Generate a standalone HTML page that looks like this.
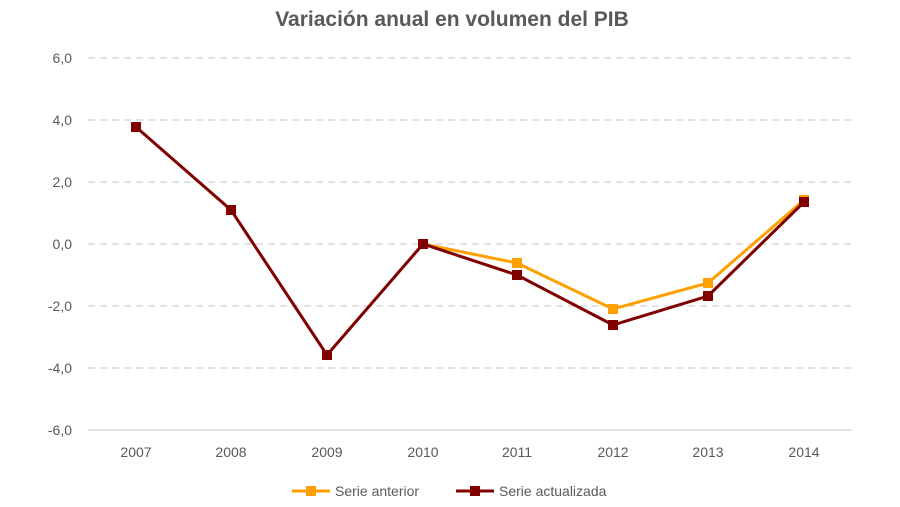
<!DOCTYPE html>
<html><head><meta charset="utf-8"><style>
html,body{margin:0;padding:0;background:#fff;}
svg{display:block;font-family:"Liberation Sans",sans-serif;}
</style></head><body>
<svg width="900" height="507" viewBox="0 0 900 507" xmlns="http://www.w3.org/2000/svg">
<rect width="900" height="507" fill="#fff"/>
<text x="452" y="26" text-anchor="middle" font-size="21" font-weight="bold" fill="#595959">Variación anual en volumen del PIB</text>
<g stroke="#d0d0d0" stroke-width="1.3" stroke-dasharray="7,5">
<line x1="88" y1="58" x2="852" y2="58"/>
<line x1="88" y1="120" x2="852" y2="120"/>
<line x1="88" y1="182" x2="852" y2="182"/>
<line x1="88" y1="244" x2="852" y2="244"/>
<line x1="88" y1="306" x2="852" y2="306"/>
<line x1="88" y1="368" x2="852" y2="368"/>
</g>
<line x1="88" y1="430" x2="852" y2="430" stroke="#d0d0d0" stroke-width="1.3"/>
<g font-size="14" fill="#595959" text-anchor="end">
<text x="72" y="63">6,0</text>
<text x="72" y="125">4,0</text>
<text x="72" y="187">2,0</text>
<text x="72" y="249">0,0</text>
<text x="72" y="311">-2,0</text>
<text x="72" y="373">-4,0</text>
<text x="72" y="435">-6,0</text>
</g>
<g font-size="14" fill="#595959" text-anchor="middle">
<text x="136" y="457">2007</text><text x="231" y="457">2008</text><text x="327" y="457">2009</text><text x="423" y="457">2010</text>
<text x="517" y="457">2011</text><text x="613" y="457">2012</text><text x="708" y="457">2013</text><text x="804" y="457">2014</text>
</g>
<polyline points="423,244 517,263 613,309 708,283 804,200" fill="none" stroke="#ffa000" stroke-width="3"/>
<g fill="#ffa000">
<rect x="418" y="239" width="10" height="10"/><rect x="512" y="258" width="10" height="10"/><rect x="608" y="304" width="10" height="10"/><rect x="703" y="278" width="10" height="10"/><rect x="799" y="195" width="10" height="10"/>
</g>
<polyline points="136,127 231,210 327,355 423,244 517,275 613,325 708,296 804,202" fill="none" stroke="#800000" stroke-width="3"/>
<g fill="#800000">
<rect x="131" y="122" width="10" height="10"/><rect x="226" y="205" width="10" height="10"/><rect x="322" y="350" width="10" height="10"/><rect x="418" y="239" width="10" height="10"/><rect x="512" y="270" width="10" height="10"/><rect x="608" y="320" width="10" height="10"/><rect x="703" y="291" width="10" height="10"/><rect x="799" y="197" width="10" height="10"/>
</g>
<line x1="292" y1="491" x2="330" y2="491" stroke="#ffa000" stroke-width="3"/>
<rect x="306" y="486" width="10" height="10" fill="#ffa000"/>
<text x="335" y="496" font-size="14" fill="#595959">Serie anterior</text>
<line x1="456" y1="491" x2="494" y2="491" stroke="#800000" stroke-width="3"/>
<rect x="470" y="486" width="10" height="10" fill="#800000"/>
<text x="499" y="496" font-size="14" fill="#595959">Serie actualizada</text>
</svg>
</body></html>
